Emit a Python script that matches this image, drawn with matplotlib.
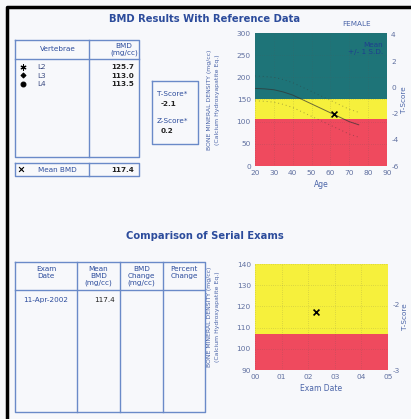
import matplotlib.pyplot as plt
import numpy as np

plt.rcParams["axes.unicode_minus"] = False

W, H = 411, 419

# table data
vertebrae = ["L2", "L3", "L4"]
vert_bmd = [125.7, 113.0, 113.5]
mean_bmd = 117.4
t_score = "-2.1"
z_score = "0.2"
patient_age = 62

# reference curve (female, mg/cc)
ref_age = [20, 25, 30, 35, 40, 45, 50, 55, 60, 65, 70, 75]
ref_mean = [175, 174, 172, 167, 160, 150, 140, 130, 120, 110, 100, 93]
ref_sd = 28
band_edges = [0, 107, 152, 300]

# serial exams
exam_dates = ["11-Apr-2002"]
exam_year = [2.28]
exam_bmd = [117.4]

BLUE = "#2c4c9c"
LINE = "#6a8ac8"
TICK = "#6070a0"
RED, YELLOW, TEAL = "#ef4a5e", "#f6f03c", "#1e7478"
BAND_COLORS = [RED, YELLOW, TEAL]

fig = plt.figure(figsize=(W / 100, H / 100), dpi=100)
fig.patch.set_facecolor("#f7f8fb")

bg = fig.add_axes([0, 0, 1, 1])
bg.set_xlim(0, W)
bg.set_ylim(H, 0)
bg.axis("off")


def px_axes(x0, y0, x1, y1):
    return fig.add_axes([x0 / W, 1 - y1 / H, (x1 - x0) / W, (y1 - y0) / H])


def box(x0, y0, x1, y1, lw=1.0):
    bg.plot([x0, x1, x1, x0, x0], [y0, y0, y1, y1, y0], color=LINE, lw=lw)


def txt(x, y, s, size=5.2, ha="center", va="center", weight="normal", color=BLUE, **kw):
    bg.text(x, y, s, fontsize=size, ha=ha, va=va, weight=weight, color=color,
            linespacing=1.1, **kw)


# outer border
bg.plot([7, 7, W], [H, 7, 7], color="black", lw=2.5)

# ---- top section ----
txt(205, 19, "BMD Results With Reference Data", size=7.2, weight="bold")
txt(357, 24, "FEMALE", size=5.2, color="#4a64a8")

box(15, 40, 139, 157)
bg.plot([89, 89], [40, 157], color=LINE, lw=1.0)
bg.plot([15, 139], [59, 59], color=LINE, lw=1.0)
txt(58, 49, "Vertebrae")
txt(124, 50, "BMD\n(mg/cc)")
markers = [(6, 2, 0), "D", "o"]
msizes = [14, 6, 12]
for i, (name, val) in enumerate(zip(vertebrae, vert_bmd)):
    y = 67 + i * 8.5
    bg.scatter(23, y, marker=markers[i], s=msizes[i], color="black", lw=0.8)
    txt(37, y, name, ha="left", color="#3a4a80")
    txt(134, y, f"{val:.1f}", ha="right", weight="bold", color="#222222")

box(15, 163, 139, 176)
bg.plot([89, 89], [163, 176], color=LINE, lw=1.0)
bg.scatter(21, 169.5, marker="x", s=12, color="black", lw=0.8)
txt(38, 169.5, "Mean BMD", ha="left")
txt(134, 169.5, f"{mean_bmd:.1f}", ha="right", weight="bold", color="#222222")

box(152, 81, 198, 144)
txt(157, 94, "T-Score*", ha="left")
txt(161, 104, t_score, ha="left", weight="bold", color="#222222")
txt(157, 121, "Z-Score*", ha="left")
txt(161, 131, z_score, ha="left", weight="bold", color="#222222")

ax1 = px_axes(255, 33, 387, 166)
for lo, hi, c in zip(band_edges[:-1], band_edges[1:], BAND_COLORS):
    ax1.axhspan(lo, hi, color=c, lw=0)
ref_mean = np.array(ref_mean)
ax1.plot(ref_age, ref_mean, color="#333333", lw=0.7, alpha=0.7)
ax1.plot(ref_age, ref_mean + ref_sd, color="#333333", lw=0.7, ls=(0, (1, 3)), alpha=0.4)
ax1.plot(ref_age, ref_mean - ref_sd, color="#333333", lw=0.7, ls=(0, (1, 3)), alpha=0.4)
ax1.scatter([patient_age], [mean_bmd], marker="x", s=18, color="black", lw=1.2, zorder=5)
ax1.set_xlim(20, 90)
ax1.set_ylim(0, 300)
ax1.set_xticks(range(20, 91, 10))
ax1.set_yticks(range(0, 301, 50))
ax1.grid(True, color="#555555", ls=(0, (1, 3)), lw=0.4, alpha=0.5)
ax1.text(0.97, 0.93, "Mean\n+/- 1 S.D.", transform=ax1.transAxes, ha="right", va="top",
         fontsize=5.2, color="#1f3f8f", linespacing=1.1)
ax1.set_xlabel("Age", fontsize=5.5, color="#4a64a8", labelpad=3)
t1 = ax1.twinx()
t1.set_ylim(-6, 4.15)
t1.set_yticks(range(-6, 5, 2))
t1.set_ylabel("T-Score", fontsize=5.2, color="#4a64a8", labelpad=2)

ax2 = px_axes(255, 264, 388, 370)
for lo, hi, c in zip(band_edges[:-1], band_edges[1:], BAND_COLORS):
    ax2.axhspan(lo, hi, color=c, lw=0)
ax2.scatter(exam_year, exam_bmd, marker="x", s=18, color="black", lw=1.2, zorder=5)
ax2.set_xlim(0, 5)
ax2.set_ylim(90, 140)
ax2.set_xticks(range(0, 6))
ax2.set_xticklabels([f"{i:02d}" for i in range(6)])
ax2.set_yticks(range(90, 141, 10))
ax2.grid(True, color="#555555", ls=(0, (1, 3)), lw=0.4, alpha=0.5)
ax2.set_xlabel("Exam Date", fontsize=5.5, color="#4a64a8", labelpad=3)
t2 = ax2.twinx()
t2.set_ylim(-3, -1.37)
t2.set_yticks([-3, -2])
t2.set_ylabel("T-Score", fontsize=5.2, color="#4a64a8", labelpad=2)

for a in (ax1, ax2, t1, t2):
    for s in a.spines.values():
        s.set_visible(False)
    a.tick_params(length=0, labelsize=5.3, colors=TICK, pad=3)

for ycen in (100, 317):
    txt(209, ycen, "BONE MINERAL DENSITY (mg/cc)", size=4.4, rotation=90, color="#4a64a8")
    txt(217, ycen, "(Calcium Hydroxyapatite Eq.)", size=4.4, rotation=90, color="#4a64a8")

# ---- bottom section ----
txt(205, 236, "Comparison of Serial Exams", size=7.2, weight="bold")
cols = [15, 77, 120, 163, 205]
box(15, 262, 205, 412)
for x in cols[1:-1]:
    bg.plot([x, x], [262, 412], color=LINE, lw=1.0)
bg.plot([15, 205], [290, 290], color=LINE, lw=1.0)
headers = ["Exam\nDate", "Mean\nBMD\n(mg/cc)", "BMD\nChange\n(mg/cc)", "Percent\nChange"]
for i, h in enumerate(headers):
    txt((cols[i] + cols[i + 1]) / 2, 266, h, va="top")
for i, (d, v) in enumerate(zip(exam_dates, exam_bmd)):
    y = 300 + i * 9
    txt(46, y, d)
    txt(115, y, f"{v:.1f}", ha="right", color="#222222")

fig.savefig("out.png", dpi=100, facecolor=fig.get_facecolor())
